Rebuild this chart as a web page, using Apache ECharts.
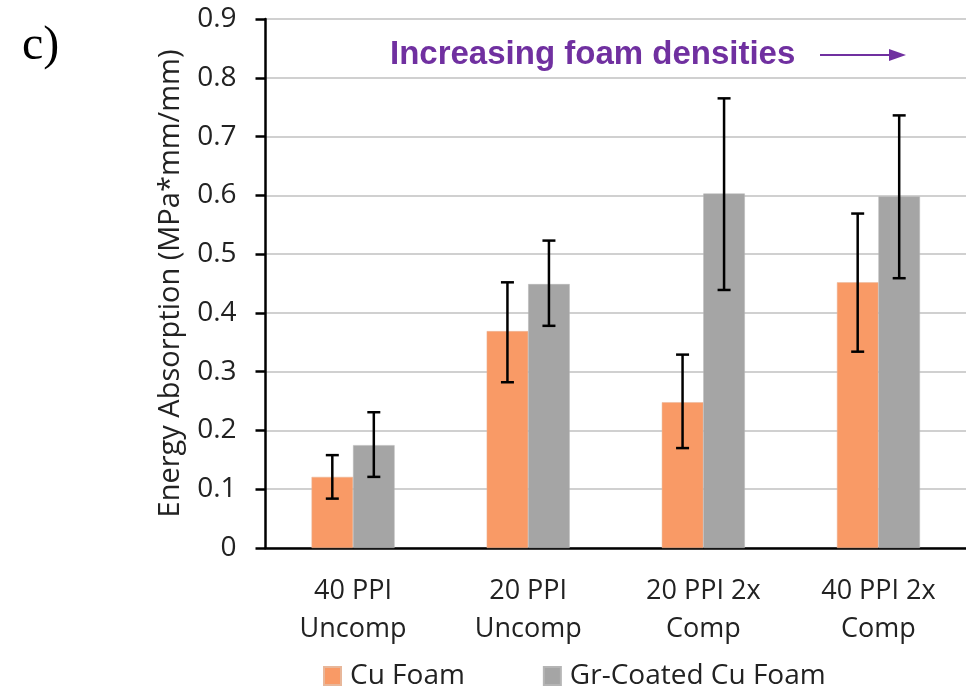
<!DOCTYPE html>
<html>
<head>
<meta charset="utf-8">
<script src="https://cdn.jsdelivr.net/npm/echarts@6/dist/echarts.min.js"></script>
<style>html,body{margin:0;padding:0;background:#fff;}#c{width:966px;height:692px;}</style>
</head>
<body>
<div id="c"></div>
<script>
const categories = ['40 PPI\nUncomp', '20 PPI\nUncomp', '20 PPI 2x\nComp', '40 PPI 2x\nComp'];
const seriesNames = ['Cu Foam', 'Gr-Coated Cu Foam'];
const cuFoam = [0.121, 0.369, 0.248, 0.452];
const cuLow = [0.084, 0.282, 0.170, 0.334];
const cuHigh = [0.158, 0.452, 0.329, 0.569];
const grFoam = [0.175, 0.449, 0.603, 0.598];
const grLow = [0.121, 0.378, 0.439, 0.459];
const grHigh = [0.231, 0.523, 0.765, 0.736];
const yTicks = [0, 0.1, 0.2, 0.3, 0.4, 0.5, 0.6, 0.7, 0.8, 0.9];

const GAP = 0.526;
const FONT = '"Open Sans"';

function errSeries(low, high, side) {
  return {
    type: 'custom',
    z: 10,
    silent: true,
    data: low.map((l, i) => [i, l, high[i]]),
    renderItem: function (params, api) {
      const i = api.value(0);
      const pLow = api.coord([i, api.value(1)]);
      const pHigh = api.coord([i, api.value(2)]);
      const band = api.size([1, 0])[0];
      const barW = band * (1 - GAP) / 2;
      const x = pLow[0] + side * barW / 2;
      const cap = 6.5;
      const st = { stroke: '#000', lineWidth: 2.5 };
      return {
        type: 'group',
        children: [
          { type: 'line', shape: { x1: x, y1: pLow[1], x2: x, y2: pHigh[1] }, style: st },
          { type: 'line', shape: { x1: x - cap, y1: pLow[1], x2: x + cap, y2: pLow[1] }, style: st },
          { type: 'line', shape: { x1: x - cap, y1: pHigh[1], x2: x + cap, y2: pHigh[1] }, style: st }
        ]
      };
    }
  };
}

const chart = echarts.init(document.getElementById('c'));
chart.setOption({
  animation: false,
  backgroundColor: '#fff',
  grid: { left: 265.5, right: -9, top: 19, bottom: 144 },
  legend: {
    data: seriesNames,
    left: 318,
    top: 657,
    itemWidth: 17,
    itemHeight: 18,
    itemGap: 78,
    icon: 'rect',
    textStyle: { fontFamily: FONT, fontSize: 28, color: '#222', padding: [0, 0, 0, 4] }
  },
  xAxis: {
    type: 'category',
    data: categories,
    axisLine: { lineStyle: { color: '#000', width: 2.5 } },
    axisTick: { show: false },
    axisLabel: { fontFamily: FONT, fontSize: 27, color: '#222', lineHeight: 38, margin: 24, interval: 0 }
  },
  yAxis: {
    type: 'value',
    min: 0,
    max: 0.9,
    interval: 0.1,
    name: 'Energy Absorption (MPa*mm/mm)',
    nameLocation: 'middle',
    nameGap: 80,
    nameTextStyle: { fontFamily: FONT, fontSize: 29, color: '#222' },
    axisLine: { show: true, lineStyle: { color: '#000', width: 2.5 } },
    axisTick: { show: true, length: 10, lineStyle: { color: '#000', width: 2.5 } },
    axisLabel: {
      fontFamily: FONT, fontSize: 28, color: '#222', margin: 29,
      formatter: v => { const t = yTicks.find(x => Math.abs(x - v) < 1e-6); return t === undefined ? '' : String(t); }
    },
    splitLine: { lineStyle: { color: '#D0D0D0', width: 2 } }
  },
  series: [
    { name: seriesNames[0], type: 'bar', data: cuFoam, barGap: '0%', barCategoryGap: (GAP * 100) + '%',
      itemStyle: { color: '#F99A66', borderColor: '#E8B79A', borderWidth: 0.5 } },
    { name: seriesNames[1], type: 'bar', data: grFoam, barGap: '0%', barCategoryGap: (GAP * 100) + '%',
      itemStyle: { color: '#A5A5A5', borderColor: '#B5B5B5', borderWidth: 0.5 } },
    errSeries(cuLow, cuHigh, -1),
    errSeries(grLow, grHigh, 1)
  ],
  graphic: [
    { type: 'text', left: 22, top: 22, style: { text: 'c)', font: '48px "Liberation Serif"', fill: '#000' } },
    { type: 'text', left: 390, top: 38, z: 6, style: { text: 'Increasing foam densities', font: 'bold 33px "Liberation Sans"', fill: '#7030A0' } },
    { type: 'line', z: 6, shape: { x1: 820, y1: 55, x2: 893, y2: 55 }, style: { stroke: '#7030A0', lineWidth: 2 } },
    { type: 'polygon', z: 6, shape: { points: [[889, 49], [906, 55], [889, 61]] }, style: { fill: '#7030A0' } }
  ]
});
</script>
</body>
</html>
